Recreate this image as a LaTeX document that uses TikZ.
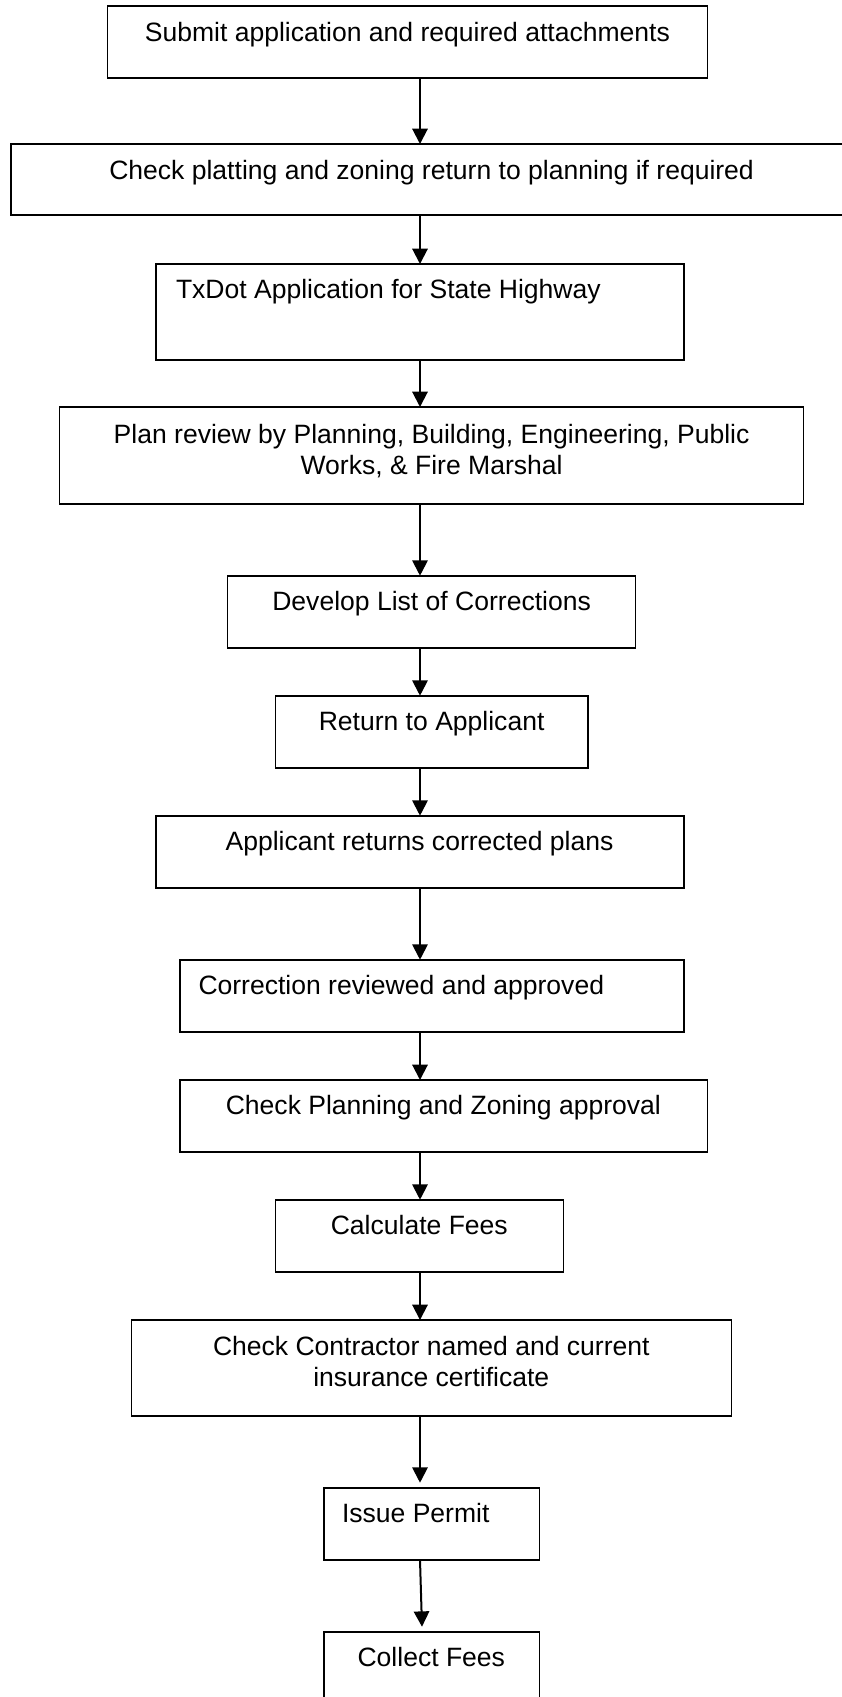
\documentclass[tikz,border=0pt]{standalone}
\usepackage{fontspec}
\setmainfont{Liberation Sans}
\usetikzlibrary{arrows.meta}
\begin{document}
\begin{tikzpicture}[x=0.75pt,y=-0.75pt,
  bx/.style 2 args={draw=black, line width=1.25pt, fill=none, inner sep=0pt, outer sep=0pt,
    anchor=north west, minimum width=#1*0.75pt, minimum height=#2*0.75pt},
  txt/.style={inner sep=0pt, outer sep=0pt, anchor=base,
    font=\fontsize{19.9pt}{23.25pt}\selectfont},
  arr/.style={line width=1.5pt, -{Triangle[length=11.5pt,width=11.5pt]}}]
\useasboundingbox[fill=white] (0,0) rectangle (842,1697);
\coordinate (ax) at (420,0);
% boxes
\node[bx={600.1}{72.3}] (b1) at (107.4,5.7) {};
\node[bx={841.8}{71}] (b2) at (10.7,144) {};
\node[bx={528.3}{96}] (b3) at (155.7,264) {};
\node[bx={743.9}{97}] (b4) at (59.6,407) {};
\node[bx={407.9}{72}] (b5) at (227.6,575.7) {};
\node[bx={312.4}{72}] (b6) at (275.4,695.7) {};
\node[bx={528.3}{72.3}] (b7) at (155.7,815.7) {};
\node[bx={504.2}{72}] (b8) at (179.8,959.7) {};
\node[bx={527.7}{71.7}] (b9) at (179.8,1080) {};
\node[bx={288.2}{72.3}] (b10) at (275.4,1199.7) {};
\node[bx={600.1}{96}] (b11) at (131.5,1320) {};
\node[bx={215.8}{72.3}] (b12) at (323.7,1487.7) {};
\node[bx={215.8}{72}] (b13) at (323.7,1631.7) {};
% texts
\node[txt] (t1) at (407.4,41.7) {Submit application and required attachments};
\node[txt] (t2) at (431.6,179) {Check platting and zoning return to planning if required};
\node[txt,anchor=base west] (t3) at (176,298.5) {TxDot Application for State Highway};
\node[txt] (t4) at (431.6,443) {\begin{tabular}[t]{@{}c@{}}Plan review by Planning, Building, Engineering, Public\\Works, \& Fire Marshal\end{tabular}};
\node[txt] (t5) at (431.6,610.5) {Develop List of Corrections};
\node[txt] (t6) at (431.6,730.5) {Return to Applicant};
\node[txt] (t7) at (419.5,850.3) {Applicant returns corrected plans};
\node[txt,anchor=base west] (t8) at (198.5,994) {Correction reviewed and approved};
\node[txt] (t9) at (443.4,1114.3) {Check Planning and Zoning approval};
\node[txt] (t10) at (419.3,1234.3) {Calculate Fees};
\node[txt] (t11) at (431.3,1355) {\begin{tabular}[t]{@{}c@{}}Check Contractor named and current\\insurance certificate\end{tabular}};
\node[txt,anchor=base west] (t12) at (342,1522.5) {Issue Permit};
\node[txt] (t13) at (431.3,1666.5) {Collect Fees};
% arrows
\draw[arr] (b1.south -| ax) -- (b2.north -| ax);
\draw[arr] (b2.south -| ax) -- (b3.north -| ax);
\draw[arr] (b3.south -| ax) -- (b4.north -| ax);
\draw[arr] (b4.south -| ax) -- (b5.north -| ax);
\draw[arr] (b5.south -| ax) -- (b6.north -| ax);
\draw[arr] (b6.south -| ax) -- (b7.north -| ax);
\draw[arr] (b7.south -| ax) -- (b8.north -| ax);
\draw[arr] (b8.south -| ax) -- (b9.north -| ax);
\draw[arr] (b9.south -| ax) -- (b10.north -| ax);
\draw[arr] (b10.south -| ax) -- (b11.north -| ax);
\draw[arr, shorten >=3.75pt] (b11.south -| ax) -- (b12.north -| ax);
\draw[arr] (b12.south -| ax) -- ([xshift=1.5pt,yshift=3.75pt]b13.north -| ax);
\end{tikzpicture}
\end{document}
